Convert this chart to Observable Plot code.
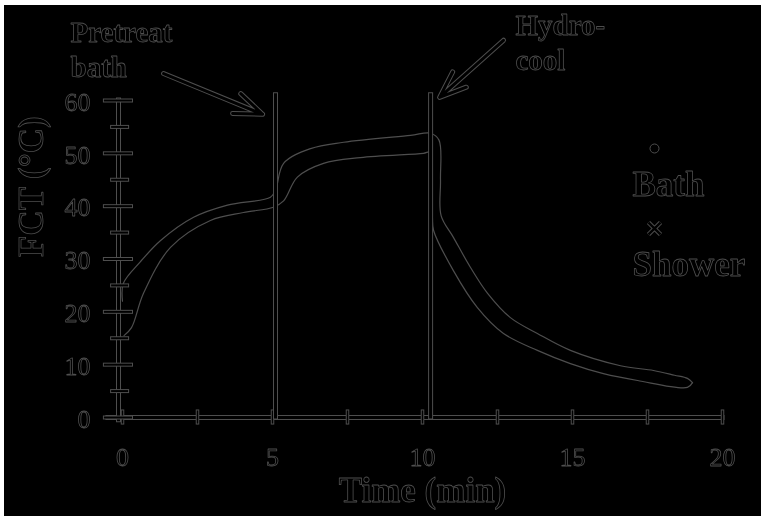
<!DOCTYPE html>
<html><head><meta charset="utf-8">
<script src="https://cdn.jsdelivr.net/npm/d3@7"></script>
<script src="https://cdn.jsdelivr.net/npm/@observablehq/plot@0.6"></script>
<style>
html,body{margin:0;padding:0;background:#000;}
#wrap{position:relative;width:761px;height:516px;overflow:hidden;background:#000;}
#wrap svg{display:block;filter:grayscale(1);}
.edgeTop{position:absolute;left:0;top:0;width:761px;height:5px;background:#fff;}
.edgeLeft{position:absolute;left:0;top:0;width:4px;height:516px;background:#fff;}
</style></head><body><div id="wrap"></div>
<script>
// ---- data (the two overlapping series form one band) ----
const seriesNames = ["Bath", "Shower"];
const bathTime = [0, 0.03, 0.6, 1.27, 2.37, 3.5, 4.93, 5.1, 5.37, 6.27, 7.37, 9.6, 10.27, 10.55, 10.6, 10.62, 11.03, 11.6, 12.17, 12.93, 13.83, 14.93, 16.6, 17.7, 18.4, 18.83, 19.0];
const bathTemp = [22, 25.4, 29.5, 33.5, 37.9, 40.2, 41.7, 43.0, 48.1, 50.9, 52.1, 53.4, 53.8, 52.5, 45, 38.2, 34.1, 28.4, 23.5, 18.9, 15.9, 12.7, 9.8, 8.9, 8.0, 7.4, 6.6];
const showerTime = [0.05, 0.3, 0.7, 1.6, 2.93, 4.03, 5.03, 5.37, 5.83, 6.7, 7.93, 10.03, 10.25, 10.3, 10.33, 10.37, 11.03, 11.83, 12.7, 13.83, 14.93, 16.03, 17.17, 18.83, 19.0];
const showerTemp = [15.5, 17, 23.5, 32.2, 37.3, 38.8, 39.8, 41, 45.5, 48.1, 49.2, 50, 50.2, 45, 38, 35.4, 27.8, 20.8, 15.9, 12.7, 10.2, 8.3, 7.0, 5.7, 6.6];
const xTicks = [0, 5, 10, 15, 20];
const xMinor = [2.5, 7.5, 12.5, 17.5];
const yTicks = [0, 10, 20, 30, 40, 50, 60];
const yMinor = [5, 15, 25, 35, 45, 55];
const eventTimes = [5.1, 10.27];
const eventLabels = ["Pretreat\nbath", "Hydro-\ncool"];
const xTitle = "Time (min)";
const yTitle = "FCT (°C)";

// ---- tables ----
const bath = bathTime.map((t, i) => ({t, v: bathTemp[i]}));
const shower = showerTime.map((t, i) => ({t, v: showerTemp[i]}));
const events = eventTimes.map((t, i) => ({t, label: eventLabels[i]}));

const OL = "#4e4e4e";
const FONT = "Liberation Serif, Times New Roman, serif";
function outlined(make, data, opts, w) {
  return [
    make(data, {...opts, stroke: OL, strokeWidth: w + 2}),
    make(data, {...opts, stroke: "#000", strokeWidth: w})
  ];
}
const txt = {fill: "#000", stroke: OL, strokeWidth: 0.8, paintOrder: "normal", fontFamily: FONT};

const arrowGeo = [
  {dx1: -3.73, y1: 65.1, dx2: -0.43, y2: 57.4},
  {dx1: 2.43, y1: 71.4, dx2: 0.3, y2: 60.6}
];

const chart = Plot.plot({
  width: 761, height: 516,
  marginLeft: 122, marginRight: 39, marginTop: 100, marginBottom: 99,
  x: {domain: [0, 20], axis: null},
  y: {domain: [0, 60], axis: null},
  style: {background: "#000", fontFamily: FONT},
  marks: [
    // data series (edges of the dense marker band)
    Plot.line(bath, {x: "t", y: "v", stroke: OL, strokeWidth: 1.2, curve: "catmull-rom"}),
    Plot.line(shower, {x: "t", y: "v", stroke: OL, strokeWidth: 1.2, curve: "catmull-rom"}),
    // axes
    ...outlined(Plot.ruleY, [0], {x1: -0.47, x2: 20, strokeLinecap: "square"}, 3),
    ...outlined(Plot.ruleX, xTicks.concat(xMinor), {y1: -1.1, y2: 1.1, strokeLinecap: "square"}, 1.5),
    ...outlined(Plot.ruleX, [0], {y1: -0.5, y2: 60, dx: -4, strokeLinecap: "square"}, 3),
    ...outlined(Plot.ruleY, yTicks, {x1: -0.57, x2: 0.3, strokeLinecap: "square"}, 2),
    ...outlined(Plot.ruleY, yMinor, {x1: -0.33, x2: 0.17, strokeLinecap: "square"}, 2),
    // event lines
    ...outlined(Plot.ruleX, eventTimes, {y1: 0, y2: 61, strokeLinecap: "square"}, 3),
    // arrows
    Plot.arrow(events, {x1: (d, i) => d.t + arrowGeo[i].dx1, y1: (d, i) => arrowGeo[i].y1,
      x2: (d, i) => d.t + arrowGeo[i].dx2, y2: (d, i) => arrowGeo[i].y2,
      stroke: OL, strokeWidth: 5, headLength: 9, headAngle: 42}),
    Plot.arrow(events, {x1: (d, i) => d.t + arrowGeo[i].dx1, y1: (d, i) => arrowGeo[i].y1,
      x2: (d, i) => d.t + arrowGeo[i].dx2, y2: (d, i) => arrowGeo[i].y2,
      stroke: "#000", strokeWidth: 3, headLength: 15, headAngle: 42}),
    // annotation texts
    Plot.text([events[0]], {...txt, text: "label", frameAnchor: "top-left", dx: -52, dy: -83.4,
      textAnchor: "start", lineAnchor: "top", fontSize: 29, fontWeight: "bold", lineHeight: 1.2}),
    Plot.text([events[1]], {...txt, text: "label", frameAnchor: "top-left", dx: 393, dy: -91,
      textAnchor: "start", lineAnchor: "top", fontSize: 29, fontWeight: "bold", lineHeight: 1.22}),
    // tick labels
    Plot.text(xTicks, {...txt, x: d => d, text: d => String(d), frameAnchor: "bottom", dy: 40,
      lineAnchor: "middle", fontSize: 26}),
    Plot.text(yTicks, {...txt, y: d => d, text: d => String(d), frameAnchor: "left", dx: -32, dy: 2,
      textAnchor: "end", lineAnchor: "middle", fontSize: 26}),
    // axis titles
    Plot.text([xTitle], {...txt, text: d => d, frameAnchor: "bottom", dy: 73, lineAnchor: "middle",
      fontSize: 35, fontWeight: "bold"}),
    Plot.text([yTitle], {...txt, text: d => d, frameAnchor: "left", dx: -91, dy: -2, rotate: -90,
      lineAnchor: "middle", fontSize: 35, fontWeight: "bold"}),
    // legend
    Plot.dot([seriesNames[0]], {frameAnchor: "top-left", dx: 532, dy: 48, r: 4.5, symbol: "circle",
      fill: "#000", stroke: OL, strokeWidth: 1}),
    Plot.text([seriesNames[0]], {...txt, text: d => d, frameAnchor: "top-left", dx: 510, dy: 84,
      textAnchor: "start", lineAnchor: "middle", fontSize: 35, fontWeight: "bold"}),
    Plot.dot([seriesNames[1]], {frameAnchor: "top-left", dx: 532, dy: 128, r: 5.5, symbol: "times",
      stroke: OL, strokeWidth: 4.5}),
    Plot.dot([seriesNames[1]], {frameAnchor: "top-left", dx: 532, dy: 128, r: 5.5, symbol: "times",
      stroke: "#000", strokeWidth: 2.5}),
    Plot.text([seriesNames[1]], {...txt, text: d => d, frameAnchor: "top-left", dx: 510, dy: 164,
      textAnchor: "start", lineAnchor: "middle", fontSize: 35, fontWeight: "bold"})
  ]
});
const wrap = document.getElementById("wrap");
wrap.appendChild(chart);
const t = document.createElement("div"); t.className = "edgeTop"; wrap.appendChild(t);
const l = document.createElement("div"); l.className = "edgeLeft"; wrap.appendChild(l);
</script>
</body></html>
